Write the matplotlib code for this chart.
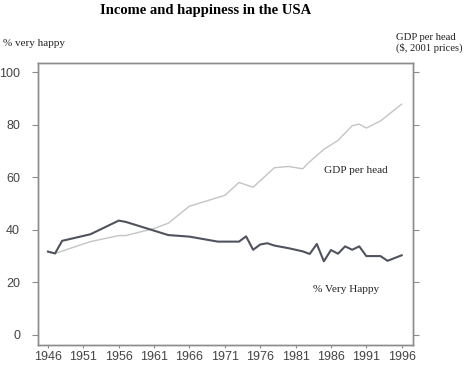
import matplotlib
matplotlib.use("Agg")
import matplotlib.pyplot as plt

# % very happy (left axis)
happy_years = [1946, 1947, 1948, 1952, 1956, 1957, 1963, 1966, 1970, 1973,
               1974, 1975, 1976, 1977, 1978, 1980, 1982, 1983, 1984, 1985,
               1986, 1987, 1988, 1989, 1990, 1991, 1993, 1994, 1996]
happy_pct = [31.7, 31.0, 35.8, 38.3, 43.5, 43.0, 38.0, 37.4, 35.5, 35.5,
             37.5, 32.4, 34.4, 34.9, 34.0, 33.0, 31.8, 30.8, 34.6, 28.0,
             32.3, 30.9, 33.7, 32.4, 33.7, 30.0, 30.0, 28.2, 30.3]

# GDP per head (right axis, same visual scale)
gdp_years = [1947, 1952, 1956, 1957, 1961, 1963, 1966, 1967, 1971, 1973,
             1975, 1978, 1980, 1982, 1983, 1985, 1987, 1989, 1990, 1991,
             1993, 1996]
gdp_index = [31.0, 35.5, 37.8, 37.8, 40.5, 42.5, 49.0, 49.8, 53.1, 58.0,
             56.2, 63.6, 64.1, 63.2, 65.9, 70.6, 74.0, 79.6, 80.2, 78.7,
             81.4, 87.8]

x_ticks = list(range(1946, 1997, 5))
y_ticks = [0, 20, 40, 60, 80, 100]

FRAME = "#8c8c8c"
TICKTXT = "#444444"
SERIF = ["Liberation Serif", "DejaVu Serif"]
SANS = ["Liberation Sans", "DejaVu Sans"]

fig = plt.figure(figsize=(4.7, 3.65), dpi=100)
ax = fig.add_axes([0.081, 0.055, 0.797, 0.772])
ax2 = ax.twinx()

ax.plot(happy_years, happy_pct, color="#50535e", lw=1.5, zorder=3)
ax2.plot(gdp_years, gdp_index, color="#c4c4c4", lw=1.0, zorder=2)
ax.set_zorder(ax2.get_zorder() + 1)
ax.patch.set_visible(False)

for a in (ax, ax2):
    a.set_xlim(1944.6, 1997.55)
    a.set_ylim(-3.8, 103.4)
    for sp in a.spines.values():
        sp.set_color(FRAME)
        sp.set_linewidth(1.0)

ax.set_xticks(x_ticks)
ax.set_yticks(y_ticks)
ax.tick_params(axis="x", length=2.5, color=FRAME, labelsize=9,
               labelcolor=TICKTXT, pad=2)
ax.tick_params(axis="y", length=4.5, color=FRAME, labelsize=9,
               labelcolor=TICKTXT, pad=8.5)
for lab in ax.get_xticklabels() + ax.get_yticklabels():
    lab.set_family(SANS)
ax2.set_yticks(y_ticks)
ax2.set_yticklabels([])
ax2.tick_params(axis="y", length=4.5, color=FRAME)

ax.text(1985.0, 62.5, "GDP per head", family=SERIF, fontsize=8.1,
        ha="left", va="center", color="#222222")
ax.text(1983.4, 17.4, "% Very Happy", family=SERIF, fontsize=8.1,
        ha="left", va="center", color="#222222")

fig.text(0.437, 0.971, "Income and happiness in the USA", family=SERIF,
         fontsize=10.5, fontweight="bold", ha="center", va="center")
fig.text(0.006, 0.882, "% very happy", family=SERIF, fontsize=8,
         ha="left", va="center", color="#222222")
fig.text(0.843, 0.881, "GDP per head\n($, 2001 prices)", family=SERIF,
         fontsize=7.7, ha="left", va="center", linespacing=1.1,
         color="#222222")

fig.savefig("out.png", dpi=100)
